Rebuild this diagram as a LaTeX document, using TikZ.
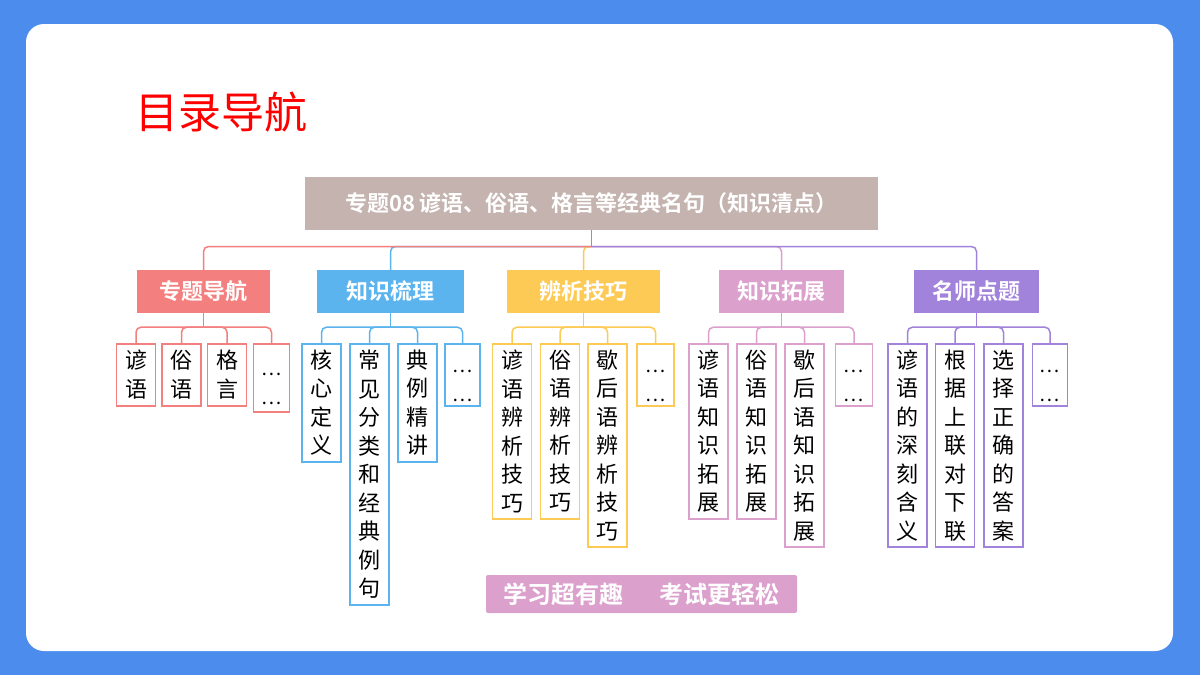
\documentclass[tikz,border=0pt]{standalone}
\usepackage{fontspec}
\usetikzlibrary{calc}
\setmainfont{Noto Sans CJK SC}
\newfontfamily\cjkbold{Noto Sans CJK SC Bold}
\definecolor{bgblue}{HTML}{4B8CEC}
\definecolor{topgray}{HTML}{C4B3AE}
\definecolor{cred}{HTML}{F47F7F}
\definecolor{cblue}{HTML}{5BB4EE}
\definecolor{cyellow}{HTML}{FDCB55}
\definecolor{cpink}{HTML}{DCA0CD}
\definecolor{cpurple}{HTML}{A183DB}
\newcommand{\dotsln}{\smash{\raisebox{-12pt}{\fontsize{19}{28.5}\selectfont …}}}
\tikzset{
  branchbox/.style={fill=#1, text=white, minimum height=43pt, inner sep=0pt,
    font=\cjkbold\fontsize{22}{22}\selectfont},
  leafbox/.style={draw=#1, line width=1.5pt, fill=white, anchor=north, inner sep=0pt,
    align=center, text width=24pt, minimum width=39pt,
    font=\fontsize{22}{28.5}\selectfont},
  conn/.style={draw=#1, line width=1.5pt, rounded corners=5pt},
}
\begin{document}
\begin{tikzpicture}[x=1pt,y=-1pt]
\useasboundingbox (0,0) rectangle (1200,675);
\fill[bgblue] (0,0) rectangle (1200,675);
\fill[white, rounded corners=18pt] (26,24) rectangle (1173,651);

\node[anchor=west, text=red, inner sep=0pt, font=\fontsize{43}{43}\selectfont] (title) at (135,112) {目录导航};

\node[fill=topgray, minimum width=573pt, minimum height=53pt, inner sep=0pt, text=white,
  font=\cjkbold\fontsize{22}{22}\selectfont] (top) at (591.5,203.5) {专题08 谚语、俗语、格言等经典名句（知识清点）};

% branches
\node[branchbox=cred, minimum width=133pt] (b1) at (203.5,291.5) {专题导航};
\node[branchbox=cblue, minimum width=147pt] (b2) at (390.5,291.5) {知识梳理};
\node[branchbox=cyellow, minimum width=153pt] (b3) at (583.5,291.5) {辨析技巧};
\node[branchbox=cpink, minimum width=125pt] (b4) at (781.5,291.5) {知识拓展};
\node[branchbox=cpurple, minimum width=125pt] (b5) at (976.5,291.5) {名师点题};

\coordinate (trunk) at (591.5,246.5);
\draw[conn=cblue] (trunk) -| (b2.north);
\draw[conn=cyellow] (trunk) -| (b3.north);
\draw[conn=cpink] (trunk) -| (b4.north);
\draw[conn=cred] (trunk) -| (b1.north);
\draw[conn=cpurple] (trunk) -| (b5.north);
\draw[conn=cpurple] (top.south) -- (trunk);

% leaves group 1
\node[leafbox=cred, minimum height=62pt] (l11) at (136,343) {谚\\语};
\node[leafbox=cred, minimum height=62pt] (l12) at (181.5,343) {俗\\语};
\node[leafbox=cred, minimum height=62pt] (l13) at (227,343) {格\\言};
\node[leafbox=cred, minimum height=68pt, minimum width=36pt] (l14) at (271.5,343) {\dotsln\\\dotsln};
% group 2
\node[leafbox=cblue, minimum height=118pt] (l21) at (321.5,343) {核\\心\\定\\义};
\node[leafbox=cblue, minimum height=261pt] (l22) at (369.5,343) {常\\见\\分\\类\\和\\经\\典\\例\\句};
\node[leafbox=cblue, minimum height=118pt] (l23) at (417.5,343) {典\\例\\精\\讲};
\node[leafbox=cblue, minimum height=62pt, minimum width=35pt] (l24) at (462.5,343) {\dotsln\\\dotsln};
% group 3
\node[leafbox=cyellow, minimum height=175pt] (l31) at (512,343) {谚\\语\\辨\\析\\技\\巧};
\node[leafbox=cyellow, minimum height=175pt] (l32) at (560,343) {俗\\语\\辨\\析\\技\\巧};
\node[leafbox=cyellow, minimum height=203pt] (l33) at (607.5,343) {歇\\后\\语\\辨\\析\\技\\巧};
\node[leafbox=cyellow, minimum height=62pt, minimum width=37pt] (l34) at (655.5,343) {\dotsln\\\dotsln};
% group 4
\node[leafbox=cpink, minimum height=175pt] (l41) at (708.5,343) {谚\\语\\知\\识\\拓\\展};
\node[leafbox=cpink, minimum height=175pt] (l42) at (756.5,343) {俗\\语\\知\\识\\拓\\展};
\node[leafbox=cpink, minimum height=203pt] (l43) at (804.5,343) {歇\\后\\语\\知\\识\\拓\\展};
\node[leafbox=cpink, minimum height=62pt, minimum width=37pt] (l44) at (854,343) {\dotsln\\\dotsln};
% group 5
\node[leafbox=cpurple, minimum height=203pt] (l51) at (907.5,343) {谚\\语\\的\\深\\刻\\含\\义};
\node[leafbox=cpurple, minimum height=203pt] (l52) at (955,343) {根\\据\\上\\联\\对\\下\\联};
\node[leafbox=cpurple, minimum height=203pt] (l53) at (1003.5,343) {选\\择\\正\\确\\的\\答\\案};
\node[leafbox=cpurple, minimum height=62pt, minimum width=35pt] (l54) at (1050,343) {\dotsln\\\dotsln};

% leaf connectors
\foreach \g/\c in {1/cred,2/cblue,3/cyellow,4/cpink,5/cpurple}{
  \coordinate (j\g) at ($(b\g.south)+(0,14)$);
  \draw[conn=\c] (b\g.south) -- (j\g);
  \foreach \k in {1,2,3,4}{
    \draw[conn=\c] (j\g) -| (l\g\k.north);
  }
}

% banner
\node[fill=cpink, rounded corners=2pt, minimum width=311pt, minimum height=38pt, inner sep=0pt,
  text=white, font=\cjkbold\fontsize{24}{24}\selectfont] (banner) at (641.5,594) {学习超有趣\hspace{36pt}考试更轻松};
\end{tikzpicture}
\end{document}
